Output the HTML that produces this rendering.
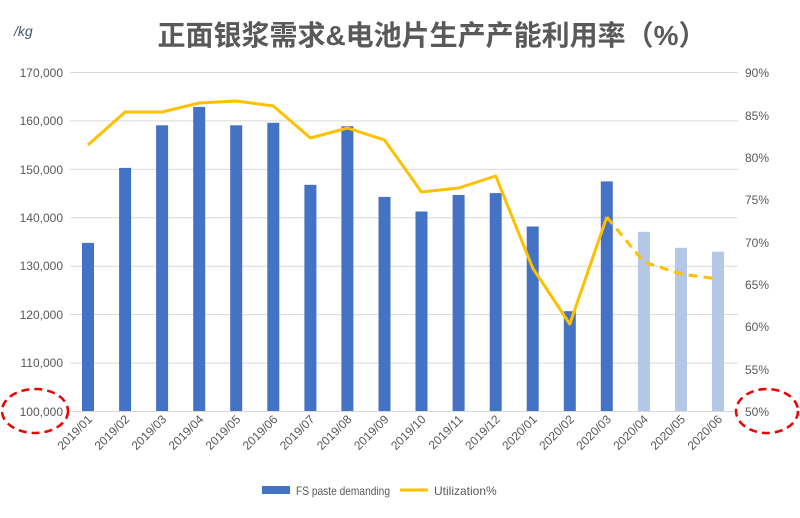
<!DOCTYPE html>
<html><head><meta charset="utf-8"><style>
body{margin:0;background:#fff;}
svg{display:block;font-family:"Liberation Sans","Noto Sans CJK SC",sans-serif;}
</style></head><body>
<svg width="800" height="518" viewBox="0 0 800 518">
<text x="432" y="45" text-anchor="middle" font-size="28" font-weight="bold" fill="#595959" font-family="'Liberation Sans','Noto Sans CJK SC',sans-serif">正面银浆需求&amp;电池片生产产能利用率（%）</text>
<text x="14" y="36" font-size="14" font-style="italic" fill="#44546a">/kg</text>
<g stroke="#d9d9d9" stroke-width="1">
<line x1="70" y1="72.5" x2="738" y2="72.5"/><line x1="70" y1="120.9" x2="738" y2="120.9"/><line x1="70" y1="169.4" x2="738" y2="169.4"/><line x1="70" y1="217.8" x2="738" y2="217.8"/><line x1="70" y1="266.2" x2="738" y2="266.2"/><line x1="70" y1="314.6" x2="738" y2="314.6"/><line x1="70" y1="363.1" x2="738" y2="363.1"/><line x1="70" y1="411.5" x2="738" y2="411.5"/>
</g>
<g font-size="12" fill="#595959" text-anchor="end">
<text x="63" y="77">170,000</text><text x="63" y="125">160,000</text><text x="63" y="174">150,000</text><text x="63" y="222">140,000</text><text x="63" y="270">130,000</text><text x="63" y="319">120,000</text><text x="63" y="367">110,000</text><text x="63" y="416">100,000</text>
</g>
<g font-size="12" fill="#595959">
<text x="745" y="77">90%</text><text x="745" y="120">85%</text><text x="745" y="162">80%</text><text x="745" y="204">75%</text><text x="745" y="247">70%</text><text x="745" y="289">65%</text><text x="745" y="331">60%</text><text x="745" y="374">55%</text><text x="745" y="416">50%</text>
</g>
<g fill="#4472c4">
<rect x="82" y="242.9" width="12" height="168.1"/><rect x="119.1" y="167.9" width="12" height="243.1"/><rect x="156.1" y="125.3" width="12" height="285.7"/><rect x="193.2" y="106.9" width="12" height="304.1"/><rect x="230.2" y="125.3" width="12" height="285.7"/><rect x="267.3" y="122.8" width="12" height="288.2"/><rect x="304.4" y="184.8" width="12" height="226.2"/><rect x="341.4" y="126.2" width="12" height="284.8"/><rect x="378.5" y="196.9" width="12" height="214.1"/><rect x="415.5" y="211.5" width="12" height="199.5"/><rect x="452.6" y="195" width="12" height="216"/><rect x="489.7" y="193.1" width="12" height="217.9"/><rect x="526.7" y="226.5" width="12" height="184.5"/><rect x="563.8" y="311.2" width="12" height="99.8"/><rect x="600.8" y="181.4" width="12" height="229.6"/>
</g>
<g fill="#b4c7e7">
<rect x="637.9" y="231.8" width="12" height="179.2"/><rect x="675" y="247.8" width="12" height="163.2"/><rect x="712" y="251.7" width="12" height="159.3"/>
</g>
<polyline fill="none" stroke="#ffc000" stroke-width="3" stroke-linejoin="round" points="88,145 125.1,112 162.1,112 199.2,103 236.2,101 273.3,106 310.4,138 347.4,128 384.5,140 421.5,192 458.6,188 495.7,176 532.7,268 569.8,324 606.8,217"/>
<polyline fill="none" stroke="#ffc000" stroke-width="3" stroke-dasharray="9,6" points="606.8,217 643.9,262 681,274 718,279"/>
<g font-size="12" fill="#595959" text-anchor="end">
<text transform="translate(93,420) rotate(-45)">2019/01</text><text transform="translate(130.1,420) rotate(-45)">2019/02</text><text transform="translate(167.1,420) rotate(-45)">2019/03</text><text transform="translate(204.2,420) rotate(-45)">2019/04</text><text transform="translate(241.2,420) rotate(-45)">2019/05</text><text transform="translate(278.3,420) rotate(-45)">2019/06</text><text transform="translate(315.4,420) rotate(-45)">2019/07</text><text transform="translate(352.4,420) rotate(-45)">2019/08</text><text transform="translate(389.5,420) rotate(-45)">2019/09</text><text transform="translate(426.5,420) rotate(-45)">2019/10</text><text transform="translate(463.6,420) rotate(-45)">2019/11</text><text transform="translate(500.7,420) rotate(-45)">2019/12</text><text transform="translate(537.7,420) rotate(-45)">2020/01</text><text transform="translate(574.8,420) rotate(-45)">2020/02</text><text transform="translate(611.8,420) rotate(-45)">2020/03</text><text transform="translate(648.9,420) rotate(-45)">2020/04</text><text transform="translate(686,420) rotate(-45)">2020/05</text><text transform="translate(723,420) rotate(-45)">2020/06</text>
</g>
<ellipse cx="35" cy="411" rx="33" ry="22" fill="none" stroke="#e00" stroke-width="2.5" stroke-dasharray="8,5"/>
<ellipse cx="767" cy="411" rx="31" ry="22" fill="none" stroke="#e00" stroke-width="2.5" stroke-dasharray="8,5"/>
<rect x="262" y="486" width="28" height="8" fill="#4472c4"/>
<text x="296" y="495" font-size="12" fill="#595959" textLength="94" lengthAdjust="spacingAndGlyphs">FS paste demanding</text>
<line x1="400" y1="490" x2="428" y2="490" stroke="#ffc000" stroke-width="3"/>
<text x="434" y="495" font-size="12" fill="#595959">Utilization%</text>
</svg>
</body></html>
